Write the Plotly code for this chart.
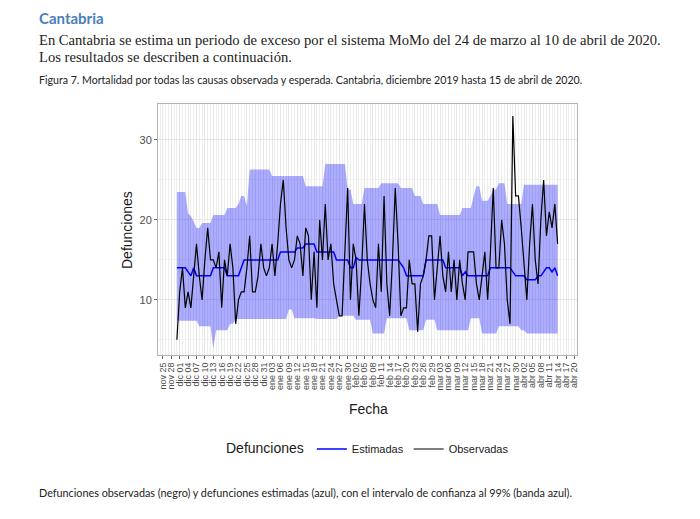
import pandas as pd
import plotly.graph_objects as go

# ---------------- data ----------------
start_date = "2019-11-30"
observed = [
    5, 11, 14, 9, 11, 9, 13, 17, 13, 10,
    15, 19, 15, 15, 14, 16, 9, 15, 13, 17,
    14, 7, 10, 11, 11, 14, 18, 11, 11, 13,
    17, 14, 13, 14, 17, 13, 17, 22, 25, 19,
    15, 14, 15, 18, 17, 13, 19, 18, 10, 16,
    9, 20, 15, 22, 15, 17, 12, 10, 8, 8,
    16, 24, 10, 17, 15, 8, 14, 22, 15, 12,
    10, 9, 17, 11, 23, 12, 8, 15, 24, 17,
    8, 9, 9, 15, 12, 12, 6, 12, 13, 15,
    18, 18, 10, 14, 18, 13, 11, 16, 11, 15,
    10, 15, 12, 10, 16, 16, 16, 12, 10, 13,
    16, 10, 16, 24, 14, 14, 20, 17, 10, 7,
    33, 23, 23, 19, 14, 10, 17, 22, 15, 12,
    20, 25, 18, 21, 19, 22, 17,
]
estimated = (
    [14] * 4 + [13.5, 13, 14] + [13] * 6 + [14] * 5 + [13] * 5 + [14]
    + [15] * 13 + [16] * 6 + [16.5] * 3 + [17] * 4 + [16] * 7 + [15] * 5
    + [14] * 2 + [15.3] + [15] * 15 + [14.5, 14] + [13] * 7 + [15] * 7
    + [14] * 6 + [13, 13.5] + [13] * 8 + [14] * 8 + [13.5] + [13] * 4
    + [12.5] * 4 + [13, 13, 13.5, 14, 14, 13.5, 14, 13]
)
upper = (
    [23.5] * 4 + [20.8, 20.5, 19.8, 19, 19] + [19.6] * 4 + [20.6] * 5
    + [21.5] * 4 + [22, 23, 23, 21.7] + [26.3] * 8 + [25.5] * 12
    + [24.2] * 7 + [27] * 8 + [23.8] * 2 + [22] * 4 + [24] * 6 + [24.6] * 7
    + [24] * 5 + [23] * 3 + [22] * 6 + [20.6] * 8 + [21.5] * 4 + [23]
    + [24.2] * 2 + [22.4] * 3 + [23] + [23.8] * 2 + [24.6] * 3 + [22] * 6
    + [24.4] * 13
)
lower = (
    [7.4] * 8 + [6.7] * 5 + [3.9] + [6.2] * 5 + [7] * 2 + [7.6] * 19
    + [8.8] * 2 + [7.7] * 8 + [7.6] * 8 + [8.0] * 6 + [7.5] * 6 + [5.8] * 5
    + [7.7] * 8 + [6.2] * 6 + [7.5] * 4 + [6.2] * 12 + [7.7] * 4 + [5.8] * 6
    + [6.7] * 8 + [6.2] * 2 + [5.8] * 12
)
dates = pd.date_range(start_date, periods=len(observed), freq="D")

tick_dates = pd.date_range("2019-11-25", "2020-04-20", freq="3D")
month_es = {11: "nov", 12: "dic", 1: "ene", 2: "feb", 3: "mar", 4: "abr"}
tick_labels = [f"{month_es[d.month]} {d.day:02d}" for d in tick_dates]

y_ticks = [10, 20, 30]

# ---------------- figure ----------------
OFF = 8                      # page body margin
W, H = 700 - OFF, 519 - OFF
L, R, T, B = 158 - OFF, 577 - OFF, 104 - OFF, 355 - OFF


def px(x):
    return (x - OFF - L) / (R - L)


def py(y):
    return (B - (y - OFF)) / (B - T)


fig = go.Figure()
fig.add_trace(go.Scatter(x=dates, y=lower, mode="lines", line=dict(width=0),
                         showlegend=False, hoverinfo="skip"))
fig.add_trace(go.Scatter(x=dates, y=upper, mode="lines", line=dict(width=0),
                         fill="tonexty", fillcolor="rgba(0,0,255,0.32)",
                         showlegend=False, hoverinfo="skip"))
fig.add_trace(go.Scatter(x=dates, y=estimated, mode="lines", name="Estimadas",
                         line=dict(color="#0000ff", width=1.5)))
fig.add_trace(go.Scatter(x=dates, y=observed, mode="lines", name="Observadas",
                         line=dict(color="#000000", width=1.2)))

axis_font = dict(family="Liberation Sans, Arial", size=9, color="#4d4d4d")
fig.update_layout(
    width=W, height=H,
    margin=dict(l=L, r=W - R, t=T, b=H - B),
    paper_bgcolor="white", plot_bgcolor="white",
    font=dict(family="Liberation Sans, Arial", color="#1a1a1a"),
    xaxis=dict(
        type="date",
        range=["2019-11-23 06:00", "2020-04-20 22:00"],
        tickmode="array", tickvals=tick_dates, ticktext=tick_labels,
        tickangle=-90, tickfont=axis_font,
        ticks="outside", ticklen=3, tickcolor="#666666", tickwidth=0.8,
        showgrid=True, gridcolor="#e6e6e6", gridwidth=0.8,
        minor=dict(dtick=86400000, tick0="2019-11-25", showgrid=True,
                   gridcolor="#eeeeee", gridwidth=0.6),
        showline=True, linecolor="#b3b3b3", linewidth=1, mirror=True,
        zeroline=False,
    ),
    yaxis=dict(
        range=[3.1, 34.5],
        tickmode="array", tickvals=y_ticks,
        tickfont=dict(family="Liberation Sans, Arial", size=11, color="#4d4d4d"),
        ticks="outside", ticklen=3, tickcolor="#666666", tickwidth=0.8,
        showgrid=True, gridcolor="#e6e6e6", gridwidth=0.8,
        minor=dict(tickvals=[5, 15, 25], showgrid=True, gridcolor="#f2f2f2",
                   gridwidth=0.6),
        showline=True, linecolor="#b3b3b3", linewidth=1, mirror=True,
        zeroline=False,
    ),
    legend=dict(
        orientation="h", x=px(369), y=py(449), xanchor="center", yanchor="middle",
        traceorder="normal", itemwidth=30,
        title=dict(text="Defunciones", font=dict(size=14, color="#1a1a1a")),
        font=dict(size=11, color="#1a1a1a"),
        bgcolor="rgba(0,0,0,0)",
    ),
)

annotations = [
    dict(text="<b>Cantabria</b>", x=px(38), y=py(OFF), yanchor="top",
         font=dict(family="Lato, Open Sans", size=15, color="#4a7ebb")),
    dict(text="En Cantabria se estima un periodo de exceso por el sistema MoMo del 24 de marzo al 10 de abril de 2020.",
         x=px(38), y=py(40),
         font=dict(family="Liberation Serif", size=14.6, color="#222222")),
    dict(text="Los resultados se describen a continuación.", x=px(38), y=py(57),
         font=dict(family="Liberation Serif", size=14.6, color="#222222")),
    dict(text="Figura 7. Mortalidad por todas las causas observada y esperada. Cantabria, diciembre 2019 hasta 15 de abril de 2020.",
         x=px(38), y=py(80),
         font=dict(family="Lato, Open Sans", size=10.6, color="#222222")),
    dict(text="Defunciones observadas (negro) y defunciones estimadas (azul), con el intervalo de confianza al 99% (banda azul).",
         x=px(38), y=py(492),
         font=dict(family="Lato, Open Sans", size=10.8, color="#222222")),
]
for a in annotations:
    a.setdefault("yanchor", "middle")
    a.update(xref="paper", yref="paper", xanchor="left",
             showarrow=False, borderpad=0)
    fig.add_annotation(**a)

fig.add_annotation(text="Defunciones", x=px(127), y=py(230), xref="paper",
                   yref="paper", textangle=-90, showarrow=False,
                   xanchor="center", yanchor="middle",
                   font=dict(size=14, color="#1a1a1a"))
fig.add_annotation(text="Fecha", x=px(368), y=py(409), xref="paper",
                   yref="paper", showarrow=False, xanchor="center",
                   yanchor="middle", font=dict(size=14, color="#1a1a1a"))

fig.write_html("out.html")
